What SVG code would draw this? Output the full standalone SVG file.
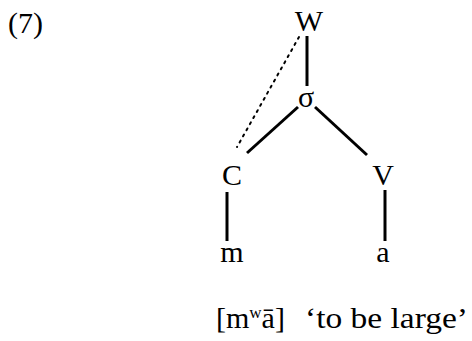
<svg xmlns="http://www.w3.org/2000/svg" width="472" height="341" viewBox="0 0 472 341">
<style>
text{font-family:"Liberation Serif","Times New Roman",serif;font-size:30px;fill:#000;text-anchor:middle}
.e{stroke:#000;stroke-width:3;fill:none}
.d{stroke:#000;stroke-width:2;stroke-dasharray:2 5;fill:none;stroke-linecap:round}
</style>
<rect width="472" height="341" fill="#fff"/>
<text x="8" y="33" style="text-anchor:start" textLength="35" lengthAdjust="spacingAndGlyphs">(7)</text>
<g id="connectors">
<line class="e" x1="307" y1="36" x2="307" y2="86"/>
<line class="d" x1="299" y1="37" x2="237" y2="147"/>
<line class="e" x1="298" y1="107" x2="247" y2="153"/>
<line class="e" x1="315" y1="107" x2="367" y2="155"/>
<line class="e" x1="227" y1="192" x2="227" y2="241"/>
<line class="e" x1="385" y1="190" x2="385" y2="241"/>
</g>
<g id="W"><text x="309" y="31">W</text></g>
<g id="sigma"><text x="306" y="107">σ</text></g>
<g id="C"><text x="232" y="185">C</text></g>
<g id="V"><text x="383" y="185">V</text></g>
<g id="m"><text x="232" y="262">m</text></g>
<g id="a"><text x="383" y="262">a</text></g>
<text x="216" y="328" style="text-anchor:start">[m<tspan dy="-10" font-size="17">w</tspan><tspan dy="10">ā]</tspan></text>
<text x="305" y="328" style="text-anchor:start" textLength="163" lengthAdjust="spacingAndGlyphs">‘to be large’</text>
</svg>
